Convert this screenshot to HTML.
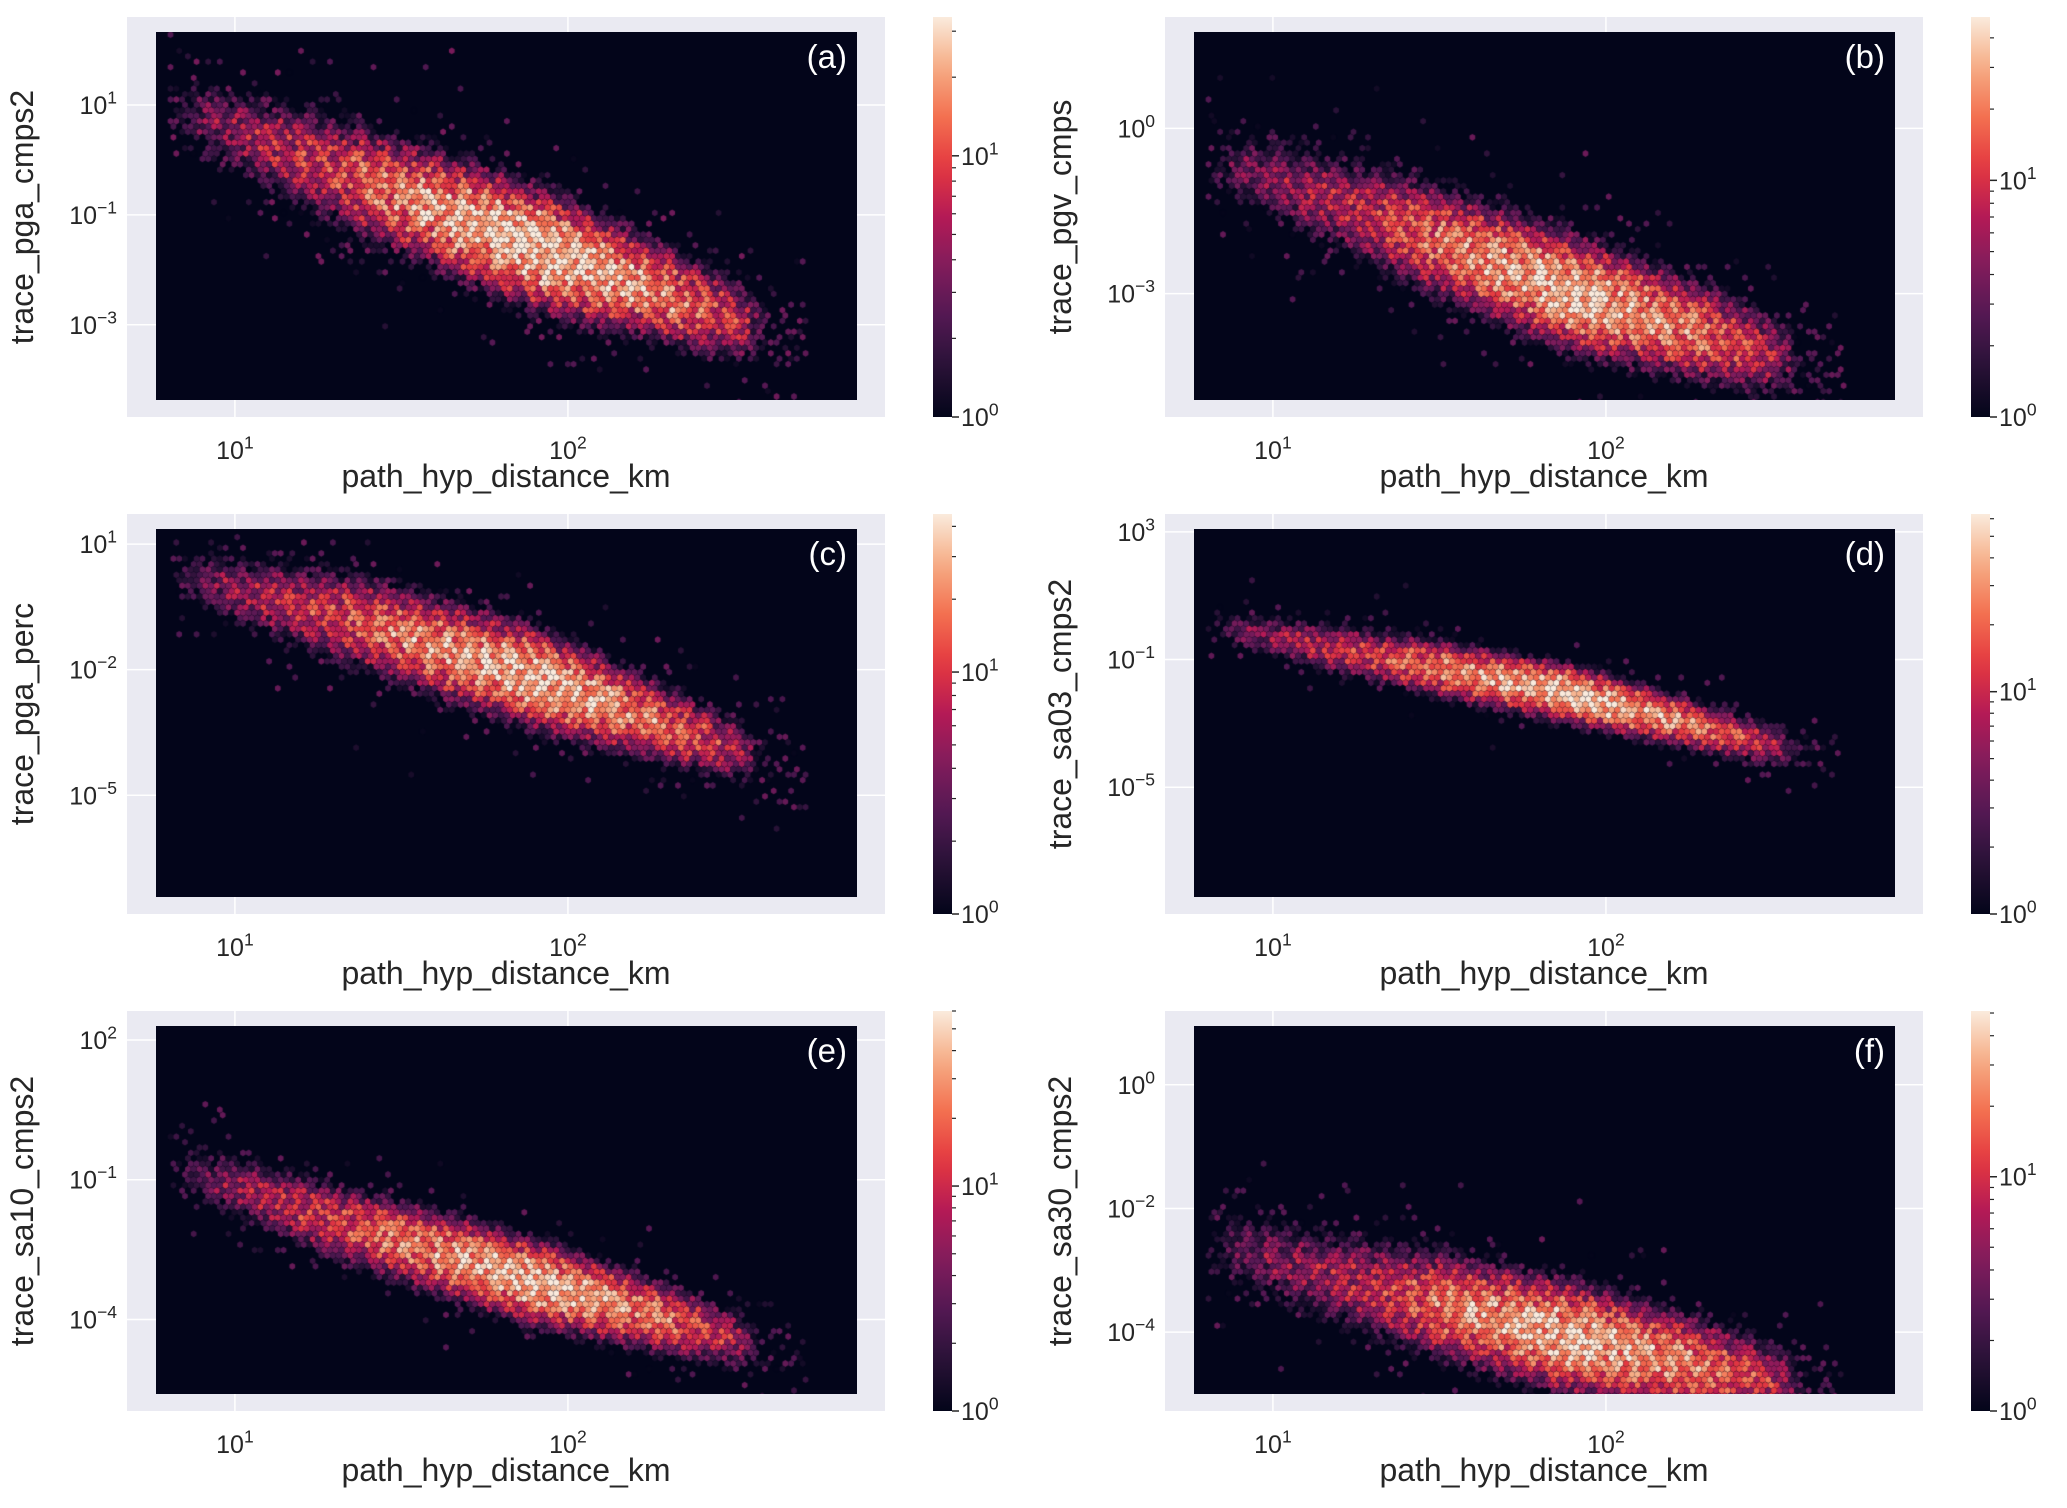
<!DOCTYPE html>
<html><head><meta charset="utf-8"><style>
html,body{margin:0;padding:0;background:#fff;}
#root{position:relative;width:2067px;height:1508px;overflow:hidden;font-family:"Liberation Sans","DejaVu Sans",sans-serif;}
svg{position:absolute;left:0;top:0;}
canvas{position:absolute;}
</style></head><body>
<div id="root">
<svg id="svg" width="2067" height="1508"></svg>
</div>
<script>
// ---- data ----
const panelLetters = ["(a)","(b)","(c)","(d)","(e)","(f)"];
const yLabels = ["trace_pga_cmps2","trace_pgv_cmps","trace_pga_perc","trace_sa03_cmps2","trace_sa10_cmps2","trace_sa30_cmps2"];
const xTicks = [1,2];
const yTicksA = [1,-1,-3];
const yTicksB = [0,-3];
const yTicksC = [1,-2,-5];
const yTicksD = [3,-1,-5];
const yTicksE = [2,-1,-4];
const yTicksF = [0,-2,-4];
const yDomains = [[-4.37,2.33],[-4.93,1.75],[-7.43,1.36],[-8.44,3.09],[-5.6,2.3],[-5.0,0.95]];
const xDomain = [0.763,2.868];
// band knots: log10 distance, centre log10 y, half-width (decades), peak count
const bandX = [0.85,1.3,1.9,2.5];
const bandYA = [0.9,-0.2,-1.6,-2.9];
const bandYB = [-0.6,-1.6,-3.0,-4.1];
const bandYC = [0.2,-0.7,-2.2,-3.9];
const bandYD = [0.0,-0.9,-2.1,-3.7];
const bandYE = [-0.8,-1.9,-3.2,-4.4];
const bandYF = [-2.6,-3.3,-4.1,-4.8];
const bandWA = [0.5,0.7,0.7,0.55];
const bandWB = [0.45,0.65,0.65,0.55];
const bandWC = [0.5,0.75,0.75,0.55];
const bandWD = [0.42,0.55,0.55,0.45];
const bandWE = [0.42,0.55,0.55,0.45];
const bandWF = [0.45,0.55,0.55,0.45];
const bandPeak = [[3,11,40,9],[3,11,48,8],[3,13,44,8],[3,16,62,9],[3,16,58,9],[3,10,50,10]];
const cbarMax = [34,49,45,63,60,51];

const yTicksAll=[yTicksA,yTicksB,yTicksC,yTicksD,yTicksE,yTicksF];
const bandYAll=[bandYA,bandYB,bandYC,bandYD,bandYE,bandYF];
const bandWAll=[bandWA,bandWB,bandWC,bandWD,bandWE,bandWF];

const NS="http://www.w3.org/2000/svg";
const svg=document.getElementById('svg');
const root=document.getElementById('root');
function mk(tag,attrs,parent){const e=document.createElementNS(NS,tag);for(const k in attrs)e.setAttribute(k,attrs[k]);(parent||svg).appendChild(e);return e;}
const stops=[[0,3,5,26],[0.125,40,18,54],[0.25,82,24,82],[0.375,128,28,92],[0.5,180,26,86],[0.625,228,56,64],[0.75,243,112,80],[0.875,246,172,132],[1,250,235,221]];
function rocket(t){t=Math.max(0,Math.min(1,t));for(let i=1;i<stops.length;i++){if(t<=stops[i][0]){const a=stops[i-1],b=stops[i];const f=(t-a[0])/(b[0]-a[0]);return 'rgb('+[1,2,3].map(k=>Math.round(a[k]+(b[k]-a[k])*f)).join(',')+')';}}return 'rgb(250,235,221)';}
function interp(xs,ys,x){if(x<=xs[0]){const s=(ys[1]-ys[0])/(xs[1]-xs[0]);return ys[0]+s*(x-xs[0]);}if(x>=xs[xs.length-1]){const n=xs.length;const s=(ys[n-1]-ys[n-2])/(xs[n-1]-xs[n-2]);return ys[n-1]+s*(x-xs[n-1]);}for(let i=1;i<xs.length;i++)if(x<=xs[i]){const f=(x-xs[i-1])/(xs[i]-xs[i-1]);return ys[i-1]+(ys[i]-ys[i-1])*f;}}
function hash(a,b,c){let h=(a*374761393+b*668265263+c*2147483647)|0;h=(h^(h>>>13))*1274126177|0;h=h^(h>>>16);return (h>>>0)/4294967296;}
function sup(parent,x,y,exp,anchor,size){const t=mk('text',{x:x,y:y,'text-anchor':anchor,'font-size':size,fill:'#262626','font-family':'"Liberation Sans","DejaVu Sans",sans-serif'},parent);t.appendChild(document.createTextNode('10'));const s=mk('tspan',{dy:-size*0.42,'font-size':size*0.7},t);s.textContent=(exp<0?'\u2212':'')+Math.abs(exp);return t;}

const ALs=[127,1165],ATs=[17,514,1011];
const overlay=document.createElementNS(NS,'svg');
overlay.setAttribute('width','2067');overlay.setAttribute('height','1508');

for(let p=0;p<6;p++){
  const AL=ALs[p%2],AT=ATs[Math.floor(p/2)],AW=758,AH=400;
  const DL=AL+29,DT=AT+15,DW=701,DH=368;
  const g=mk('g',{});
  
  
  const bg=mk('rect',{x:AL,y:AT,width:AW,height:AH,fill:'#eaeaf2'},g);
  
  const xs=v=>DL+(v-xDomain[0])/(xDomain[1]-xDomain[0])*DW;
  const yd=yDomains[p];
  const ys=v=>DT+(yd[1]-v)/(yd[1]-yd[0])*DH;
  xTicks.forEach(t=>{const l=mk('line',{x1:xs(t),x2:xs(t),y1:AT,y2:AT+AH,stroke:'#fff','stroke-width':1.5},g);
    const tx=sup(g,xs(t),AT+AH+42,t,'middle',25);});
  yTicksAll[p].forEach(t=>{const l=mk('line',{x1:AL,x2:AL+AW,y1:ys(t),y2:ys(t),stroke:'#fff','stroke-width':1.5},g);
    const tx=sup(g,AL-10,ys(t)+9,t,'end',25);});
  const xl=mk('text',{x:AL+AW/2,y:AT+AH+70,'text-anchor':'middle','font-size':32,fill:'#262626'},g);xl.textContent='path_hyp_distance_km';
  
  const yl=mk('text',{x:0,y:0,'text-anchor':'middle','font-size':32,fill:'#262626',transform:'translate('+(AL-94)+','+(AT+AH/2)+') rotate(-90)'},g);yl.textContent=yLabels[p];
  
  // hexbin canvas
  const cv=document.createElement('canvas');cv.width=DW;cv.height=DH;cv.style.left=DL+'px';cv.style.top=DT+'px';
  
  root.appendChild(cv);
  const ctx=cv.getContext('2d');ctx.fillStyle=rocket(0);ctx.fillRect(0,0,DW,DH);
  const cw=5.8,ch=5.4;const nc=Math.ceil(DW/cw)+1,nr=Math.ceil(DH/ch)+1;const mx=cbarMax[p];
  for(let r=0;r<nr;r++)for(let c=0;c<nc;c++){
    const off=(r%2)?cw/2:0;const px=c*cw+off,py=r*ch;
    const lx=xDomain[0]+(px+cw/2)/DW*(xDomain[1]-xDomain[0]);
    const ly=yd[1]-(py+ch/2)/DH*(yd[1]-yd[0]);
    const cy=interp(bandX,bandYAll[p],lx),w=interp(bandX,bandWAll[p],lx);
    let pk=interp(bandX,bandPeak[p],lx);
    if(lx<0.9)pk*=Math.exp(-Math.pow((0.9-lx)/0.07,2));
    if(lx>2.5)pk*=Math.exp(-Math.pow((lx-2.5)/0.1,2));
    const d=(ly-cy)/w;
    const nz=hash(p,r,c);
    let cnt=pk*Math.exp(-d*d*1.0)*(0.3+1.3*nz*nz+0.3*hash(r,p,c));
    if(cnt<1.2){cnt=(hash(c,p,r)<0.3*Math.exp(-d*d*0.3)&&lx>0.8&&lx<2.72)?1+2.5*hash(r,c,p):0;}
    if(cnt<=0)continue;
    ctx.fillStyle=rocket(Math.log(Math.max(1,cnt))/Math.log(mx));
    ctx.beginPath();
    const hx=px+cw/2,hy=py+ch/2;
    for(let k=0;k<6;k++){const a=Math.PI/6+k*Math.PI/3;ctx.lineTo(hx+Math.cos(a)*3.3,hy+Math.sin(a)*3.4);}
    ctx.fill();
  }
  const lt=mk('text',{x:DL+DW-10,y:DT+36,'text-anchor':'end','font-size':33,fill:'#fff'},overlay);lt.textContent=panelLetters[p];
  
  // colorbar
  const CX=AL+806,CW=19;
  const gid='cg'+p;const defs=mk('defs',{},g);const lg=mk('linearGradient',{id:gid,x1:0,y1:1,x2:0,y2:0},defs);
  for(let i=0;i<=20;i++)mk('stop',{offset:i/20,'stop-color':rocket(i/20)},lg);
  const cb=mk('rect',{x:CX,y:AT,width:CW,height:AH,fill:'url(#'+gid+')'},g);
  
  const cy=v=>AT+AH-Math.log10(v)/Math.log10(mx)*AH;
  [2,3,4,5,6,7,8,9,20,30,40,50,60].forEach(v=>{if(v<=mx)mk('line',{x1:CX+CW,x2:CX+CW+4,y1:cy(v),y2:cy(v),stroke:'#262626','stroke-width':1.2},g);});
  [1,10].forEach((v,i)=>{mk('line',{x1:CX+CW,x2:CX+CW+7,y1:cy(v),y2:cy(v),stroke:'#262626','stroke-width':1.5},g);
    const tx=sup(g,CX+CW+9,cy(v)+9,i,'start',25);});
}
root.appendChild(overlay);
</script>
</body></html>
